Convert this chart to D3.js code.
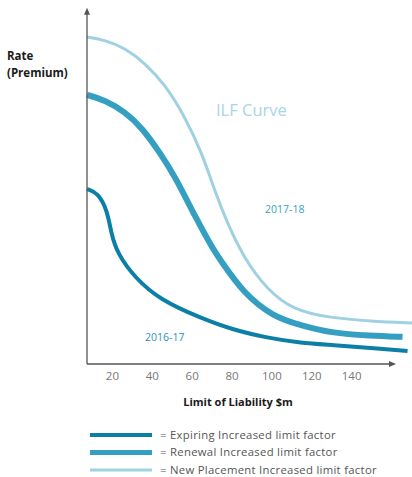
<!DOCTYPE html>
<html>
<head>
<meta charset="utf-8">
<script src="https://cdn.jsdelivr.net/npm/d3@7"></script>
<style>
  html, body { margin: 0; padding: 0; background: #fff; }
  svg { display: block; font-family: "Open Sans", "Noto Sans", sans-serif; }
</style>
</head>
<body>
<div class="container"></div>
<script>
const width = 412,
    height = 477;

// limit of liability ($m)
const expiringLimit = [7.5, 13, 17.6, 19.6, 22.6, 31.6, 44.2, 64.3, 80.9, 98, 114.6, 131.2, 149.7, 168.3];
const expiringRate  = [53.5, 52.3, 47.1, 40.1, 33.9, 26.3, 19.6, 14.1, 10.4, 8.0, 6.4, 5.8, 4.9, 4.0];

const renewalLimit = [7.5, 16.6, 26.6, 35.2, 44.2, 51.8, 61.8, 70.9, 74.4, 85.9, 101, 114.6, 129.6, 149.7, 165.8];
const renewalRate  = [82.3, 80.7, 77.1, 72.2, 64.5, 57.2, 45.0, 34.9, 31.8, 21.7, 14.4, 11.9, 9.5, 8.6, 8.3];

const placementLimit = [7.5, 16.6, 26.6, 36.7, 46.7, 55.3, 65.3, 71.9, 77.9, 85.9, 98, 111.1, 129.6, 149.7, 170.9];
const placementRate  = [100, 99.1, 96.6, 92.0, 85.3, 77.1, 64.5, 52.3, 43.1, 32.7, 22.6, 16.5, 14.1, 13.1, 12.5];

const xTicks = [20, 40, 60, 80, 100, 120, 140];

const seriesNames = ['Expiring Increased limit factor', 'Renewal Increased limit factor', 'New Placement Increased limit factor'];
const seriesColors = ['#0b7fa5', '#359fc2', '#9fd1e2'];
const seriesWidths = [4, 6, 3];

const series = [
    { name: seriesNames[0], limit: expiringLimit, rate: expiringRate },
    { name: seriesNames[1], limit: renewalLimit, rate: renewalRate },
    { name: seriesNames[2], limit: placementLimit, rate: placementRate }
].map((s, i) => ({
    name: s.name,
    color: seriesColors[i],
    width: seriesWidths[i],
    points: s.limit.map((l, j) => [l, s.rate[j]])
}));

const x = d3.scaleLinear()
    .domain([7.5, 161])
    .range([87, 393]);

const y = d3.scaleLinear()
    .domain([0, 100])
    .range([364, 37]);

const svg = d3.select('.container')
    .append('svg')
    .attr('width', width)
    .attr('height', height);

const line = d3.line()
    .x(d => x(d[0]))
    .y(d => y(d[1]))
    .curve(d3.curveBasis);

// curves (light drawn first so darker lines sit on top)
svg.append('g')
    .selectAll('path')
    .data(series.slice().reverse())
    .enter()
    .append('path')
    .attr('d', d => line(d.points))
    .attr('fill', 'none')
    .attr('stroke', d => d.color)
    .attr('stroke-width', d => d.width);

// axes with arrow heads
const axisColor = '#555';
const x0 = x(7.5), y0 = y(0), yTop = y(108), xEnd = x(161);

svg.append('line')
    .attr('x1', x0).attr('y1', y0)
    .attr('x2', x0).attr('y2', yTop + 2)
    .attr('stroke', axisColor)
    .attr('stroke-width', 1.3);

svg.append('path')
    .attr('d', `M${x0},${yTop - 3}L${x0 - 3},${yTop + 4}L${x0 + 3},${yTop + 4}Z`)
    .attr('fill', axisColor);

svg.append('line')
    .attr('x1', x0).attr('y1', y0)
    .attr('x2', xEnd - 2).attr('y2', y0)
    .attr('stroke', axisColor)
    .attr('stroke-width', 1.3);

svg.append('path')
    .attr('d', `M${xEnd + 3},${y0}L${xEnd - 4},${y0 - 3}L${xEnd - 4},${y0 + 3}Z`)
    .attr('fill', axisColor);

const xAxis = svg.append('g')
    .attr('transform', `translate(0,${y0})`)
    .call(d3.axisBottom(x)
        .tickValues(xTicks)
        .tickSize(0)
        .tickPadding(8));

xAxis.select('.domain').remove();
xAxis.selectAll('text')
    .attr('fill', '#777')
    .style('font-size', '11.5px')
    .style('font-family', '"Open Sans", sans-serif');

svg.append('text')
    .attr('x', 238)
    .attr('y', 406)
    .attr('text-anchor', 'middle')
    .attr('fill', '#1a1a1a')
    .style('font-size', '11px')
    .style('font-weight', 'bold')
    .text('Limit of Liability $m');

svg.append('text')
    .attr('x', 7)
    .attr('y', 60)
    .attr('fill', '#1a1a1a')
    .style('font-size', '11.5px')
    .style('font-weight', 'bold')
    .text('Rate');

svg.append('text')
    .attr('x', 7)
    .attr('y', 77)
    .attr('fill', '#1a1a1a')
    .style('font-size', '11.5px')
    .style('font-weight', 'bold')
    .text('(Premium)');

// annotations
svg.append('text')
    .attr('x', 216)
    .attr('y', 116)
    .attr('fill', '#a9d6e6')
    .style('font-size', '16.5px')
    .text('ILF Curve');

svg.append('text')
    .attr('x', 265)
    .attr('y', 213)
    .attr('fill', '#3a9fc2')
    .style('font-size', '10.5px')
    .text('2017-18');

svg.append('text')
    .attr('x', 145)
    .attr('y', 341)
    .attr('fill', '#2d95bc')
    .style('font-size', '10.5px')
    .text('2016-17');

// legend
const legend = svg.append('g')
    .attr('id', 'legend');

const legendY = d3.scalePoint()
    .domain(seriesNames)
    .range([435, 470]);

const items = legend.selectAll('g')
    .data(series)
    .enter()
    .append('g')
    .attr('transform', d => `translate(0,${legendY(d.name)})`);

items.append('line')
    .attr('x1', 90)
    .attr('x2', 152)
    .attr('stroke', d => d.color)
    .attr('stroke-width', d => d.width === 6 ? 5 : d.width);

items.append('text')
    .attr('x', 160)
    .attr('dy', '0.35em')
    .attr('fill', '#555')
    .style('font-size', '11.3px')
    .style('letter-spacing', '0.3px')
    .text(d => '= ' + d.name);
</script>
</body>
</html>
